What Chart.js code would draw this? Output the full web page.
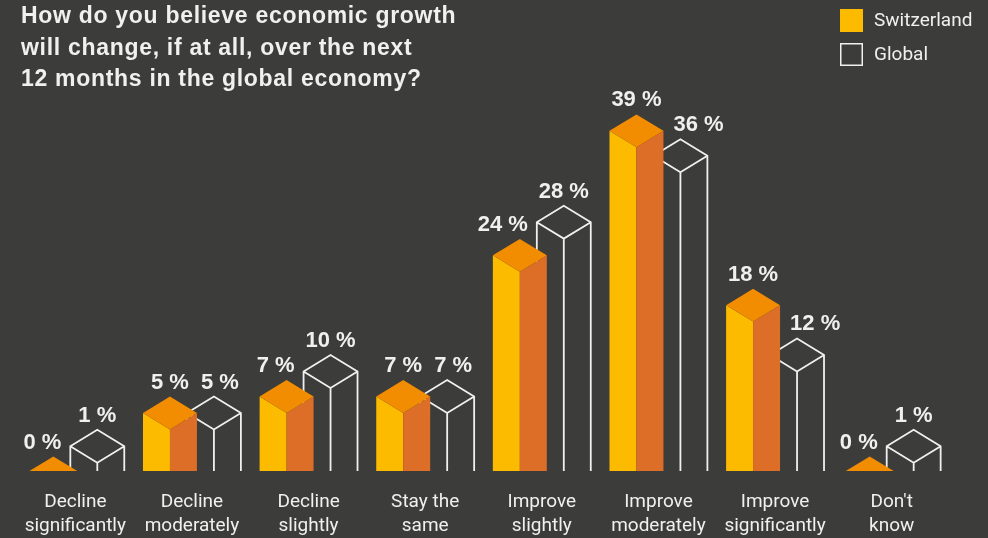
<!DOCTYPE html>
<html>
<head>
    <title>Economic growth outlook</title>
    <script src="https://cdn.jsdelivr.net/npm/chart.js"></script>
    <style>
        body { margin: 0; background: #3c3c3b; }
        #wrap { width: 988px; height: 538px; }
    </style>
</head>
<body>
    <div id="wrap"><canvas id="myChart"></canvas></div>
    <script>
        var categories = [
            ['Decline', 'significantly'], ['Decline', 'moderately'], ['Decline', 'slightly'],
            ['Stay the', 'same'], ['Improve', 'slightly'], ['Improve', 'moderately'],
            ['Improve', 'significantly'], ["Don't", 'know']
        ];
        var switzerland = [0, 5, 7, 7, 24, 39, 18, 0];
        var global = [1, 5, 10, 7, 28, 36, 12, 1];
        var titleLines = [
            'How do you believe economic growth',
            'will change, if at all, over the next',
            '12 months in the global economy?'
        ];

        var BG = '#3c3c3b';
        var FRONT = '#fdbb00', SIDE = '#dc6e28', TOP = '#f28c00';
        var LINE = '#f0f0f0';
        var narrow = "Roboto, 'Liberation Sans', sans-serif";
        var bold = "bold 22px 'Liberation Sans', Arial, sans-serif";

        function solidBar(ctx, c, h, yc, base) {
            var d = h * 0.61;
            if (yc >= base - 0.5) {
                // zero value: only the tip of the cap shows
                ctx.fillStyle = TOP;
                ctx.beginPath();
                ctx.moveTo(c - h + 3, base); ctx.lineTo(c, base - d + 2); ctx.lineTo(c + h - 3, base);
                ctx.closePath(); ctx.fill();
                return base - d + 2;
            }
            ctx.fillStyle = FRONT;
            ctx.beginPath();
            ctx.moveTo(c - h, base); ctx.lineTo(c - h, yc - d); ctx.lineTo(c, yc); ctx.lineTo(c, base);
            ctx.closePath(); ctx.fill();
            ctx.fillStyle = SIDE;
            ctx.beginPath();
            ctx.moveTo(c, base); ctx.lineTo(c, yc); ctx.lineTo(c + h, yc - d); ctx.lineTo(c + h, base);
            ctx.closePath(); ctx.fill();
            ctx.fillStyle = TOP;
            ctx.beginPath();
            ctx.moveTo(c - h, yc - d); ctx.lineTo(c, yc - 2 * d); ctx.lineTo(c + h, yc - d); ctx.lineTo(c, yc);
            ctx.closePath(); ctx.fill();
            return yc - 2 * d;
        }

        function outlineBar(ctx, c, h, yc, base) {
            var d = h * 0.61;
            ctx.fillStyle = BG;
            ctx.beginPath();
            ctx.moveTo(c - h, base); ctx.lineTo(c - h, yc - d); ctx.lineTo(c, yc - 2 * d);
            ctx.lineTo(c + h, yc - d); ctx.lineTo(c + h, base);
            ctx.closePath(); ctx.fill();
            ctx.strokeStyle = LINE;
            ctx.lineWidth = 1.8;
            ctx.lineJoin = 'miter';
            ctx.beginPath();
            ctx.moveTo(c - h, base); ctx.lineTo(c - h, yc - d); ctx.lineTo(c, yc - 2 * d);
            ctx.lineTo(c + h, yc - d); ctx.lineTo(c + h, base);
            ctx.moveTo(c - h, yc - d); ctx.lineTo(c, yc); ctx.lineTo(c + h, yc - d);
            ctx.moveTo(c, yc); ctx.lineTo(c, base);
            ctx.stroke();
            return yc - 2 * d;
        }

        function pct(v) { return v + ' %'; }

        var isoBars = {
            id: 'isoBars',
            afterDatasetsDraw: function(chart) {
                var ctx = chart.ctx, y = chart.scales.y, base = y.getPixelForValue(0);
                var sw = chart.getDatasetMeta(0).data, gl = chart.getDatasetMeta(1).data;
                ctx.save();
                ctx.font = bold;
                ctx.textAlign = 'left';
                ctx.textBaseline = 'alphabetic';
                for (var i = 0; i < categories.length; i++) {
                    var h = sw[i].width / 2;
                    var gx = gl[i].x, sx = sw[i].x;
                    var gTop = outlineBar(ctx, gx, h, y.getPixelForValue(global[i]), base);
                    var sTop = solidBar(ctx, sx, h, y.getPixelForValue(switzerland[i]), base);

                    // Switzerland label, pushed left if it runs into the global bar
                    ctx.fillStyle = LINE;
                    var sText = pct(switzerland[i]), sw_ = ctx.measureText(sText).width;
                    var sBase = sTop - 8, sLeft = sx - sw_ / 2;
                    if (sLeft + sw_ > gx - h - 9 && sBase > gTop) sLeft = gx - h - 9 - sw_;
                    ctx.fillText(sText, sLeft, sBase);

                    // global label, pushed right past the solid bar and its label
                    var gText = pct(global[i]), gw = ctx.measureText(gText).width;
                    var gBase = gTop - 8, gLeft = gx - gw / 2;
                    if (gLeft < sx + h + 10 && gBase > sTop) gLeft = sx + h + 10;
                    if (gLeft < sLeft + sw_ + 12 && gBase > sBase - 16 && gBase - 16 < sBase) gLeft = sLeft + sw_ + 12;
                    ctx.fillText(gText, gLeft, gBase);
                }
                ctx.restore();
            },
            afterDraw: function(chart) {
                var ctx = chart.ctx;
                ctx.save();
                // title block
                ctx.fillStyle = LINE;
                ctx.font = "bold 23px 'Liberation Sans', Arial, sans-serif";
                ctx.letterSpacing = '0.7px';
                ctx.textBaseline = 'alphabetic';
                titleLines.forEach(function(t, k) { ctx.fillText(t, 21, 23 + k * 31.5); });
                ctx.letterSpacing = '0px';
                // legend
                var items = chart.data.datasets;
                ctx.font = '19px ' + narrow;
                ctx.textBaseline = 'middle';
                items.forEach(function(ds, k) {
                    var top = 9 + k * 34;
                    if (k === 0) {
                        ctx.fillStyle = FRONT;
                        ctx.fillRect(840, top, 23, 23);
                    } else {
                        ctx.strokeStyle = LINE;
                        ctx.lineWidth = 1.5;
                        ctx.strokeRect(840.75, top + 0.75, 21.5, 21.5);
                    }
                    ctx.fillStyle = LINE;
                    ctx.fillText(ds.label, 874, top + 12);
                });
                ctx.restore();
            }
        };

        var ctx = document.getElementById('myChart').getContext('2d');
        var myChart = new Chart(ctx, {
            type: 'bar',
            data: {
                labels: categories,
                datasets: [{
                    label: 'Switzerland',
                    data: switzerland,
                    backgroundColor: 'transparent',
                    categoryPercentage: 0.754,
                    barPercentage: 1.227
                }, {
                    label: 'Global',
                    data: global,
                    backgroundColor: 'transparent',
                    categoryPercentage: 0.754,
                    barPercentage: 1.227
                }]
            },
            options: {
                responsive: true,
                maintainAspectRatio: false,
                animation: false,
                events: [],
                layout: { padding: { top: 56, left: 17, right: 38, bottom: 0 } },
                plugins: {
                    legend: { display: false },
                    tooltip: { enabled: false }
                },
                scales: {
                    x: {
                        grid: { display: false, drawTicks: false },
                        border: { display: false },
                        ticks: {
                            color: LINE,
                            padding: 19,
                            maxRotation: 0,
                            autoSkip: false,
                            font: { family: narrow, size: 19, lineHeight: 1.26 }
                        },
                        afterFit: function(scale) { scale.height = 67; }
                    },
                    y: {
                        display: false,
                        min: 0,
                        max: 50
                    }
                }
            },
            plugins: [isoBars]
        });
    </script>
</body>
</html>
